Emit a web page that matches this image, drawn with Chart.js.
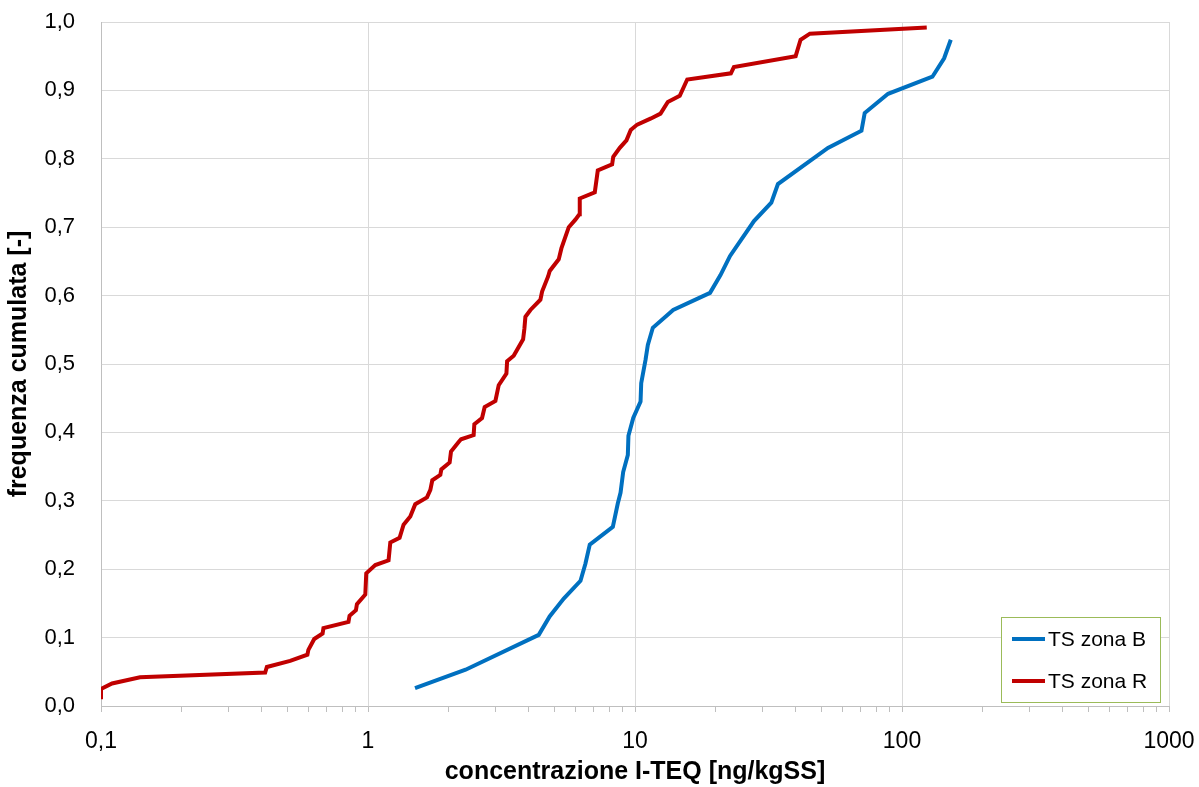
<!DOCTYPE html>
<html>
<head>
<meta charset="utf-8">
<script src="https://cdn.jsdelivr.net/npm/chart.js@4"></script>
<style>
  body { margin: 0; background: #fff; }
  #wrap { width: 1199px; height: 787px; }
</style>
</head>
<body>
<div id="wrap"><canvas id="cdf" width="1199" height="787"></canvas></div>
<script>
// concentrazione I-TEQ [ng/kgSS] vs frequenza cumulata
const seriesNames = ['TS zona B', 'TS zona R'];

const zonaBX = [1.50, 2.32, 4.36, 4.79, 5.41, 6.25, 6.52, 6.77, 8.26, 8.62, 8.83, 9.03, 9.40, 9.45,
  9.85, 10.49, 10.55, 10.95, 11.17, 11.66, 13.9, 19.1, 20.9, 22.7, 27.9, 32.4, 34.3, 52.8, 70.5,
  72.5, 88.7, 130, 143.8, 152.3];
const zonaBY = [0.026, 0.053, 0.104, 0.131, 0.157, 0.183, 0.208, 0.236, 0.262, 0.296, 0.312, 0.342, 0.367, 0.395,
  0.421, 0.445, 0.472, 0.506, 0.528, 0.553, 0.579, 0.604, 0.630, 0.658, 0.709, 0.736, 0.763, 0.816, 0.841,
  0.867, 0.895, 0.920, 0.947, 0.974];

const zonaRX = [0.1, 0.1, 0.110, 0.140, 0.412, 0.418, 0.511, 0.593, 0.598, 0.629, 0.676, 0.681, 0.845, 0.853,
  0.901, 0.909, 0.977, 0.985, 1.065, 1.194, 1.212, 1.313, 1.359, 1.440, 1.503, 1.663, 1.712, 1.741, 1.866,
  1.882, 2.022, 2.046, 2.185, 2.231, 2.487, 2.502, 2.674, 2.735, 3.00, 3.087, 3.299, 3.319, 3.513, 3.668,
  3.810, 3.853, 3.886, 4.058, 4.423, 4.488, 4.727, 4.793, 5.18, 5.30, 5.648, 5.98, 6.19, 6.21, 7.07, 7.255,
  8.21, 8.29, 8.77, 9.29, 9.64, 10.19, 11.48, 12.46, 13.27, 14.71, 15.69, 22.86, 23.46, 39.96, 41.7, 45.2,
  123.8];
const zonaRY = [0.010, 0.025, 0.033, 0.042, 0.049, 0.057, 0.066, 0.075, 0.082, 0.098, 0.106, 0.114, 0.123, 0.132,
  0.140, 0.149, 0.163, 0.194, 0.206, 0.213, 0.239, 0.246, 0.265, 0.277, 0.295, 0.305, 0.316, 0.330, 0.338,
  0.346, 0.356, 0.372, 0.386, 0.390, 0.396, 0.412, 0.421, 0.437, 0.446, 0.469, 0.486, 0.504, 0.512, 0.525,
  0.536, 0.552, 0.569, 0.579, 0.594, 0.606, 0.628, 0.636, 0.653, 0.669, 0.700, 0.711, 0.719, 0.742, 0.751, 0.783,
  0.792, 0.803, 0.816, 0.827, 0.842, 0.850, 0.859, 0.866, 0.883, 0.892, 0.916, 0.925, 0.934, 0.950, 0.974, 0.983,
  0.992];

const xMajorLabels = ['0,1', '1', '10', '100', '1000'];

const toPoints = (xs, ys) => xs.map((x, i) => ({ x: x, y: ys[i] }));

function isMajor(v) {
  const l = Math.log10(v);
  return Math.abs(l - Math.round(l)) < 1e-9;
}

// legend box drawn inside the plot, bottom right
const legendBox = {
  id: 'legendBox',
  afterDraw(chart) {
    const ctx = chart.ctx;
    const items = chart.data.datasets;
    ctx.save();
    ctx.fillStyle = '#ffffff';
    ctx.fillRect(1002, 618, 159, 84);
    ctx.strokeStyle = '#9bbb59';
    ctx.lineWidth = 1;
    ctx.strokeRect(1001.5, 617.5, 159, 85);
    ctx.font = '21px "Liberation Sans", Arial, sans-serif';
    ctx.textBaseline = 'middle';
    items.forEach((ds, i) => {
      const y = 639 + i * 42;
      ctx.strokeStyle = ds.borderColor;
      ctx.lineWidth = 4;
      ctx.beginPath();
      ctx.moveTo(1012, y);
      ctx.lineTo(1045, y);
      ctx.stroke();
      ctx.fillStyle = '#000';
      ctx.fillText(ds.label, 1048, y + 1);
    });
    ctx.restore();
  }
};

const ctx = document.getElementById('cdf').getContext('2d');

new Chart(ctx, {
  type: 'line',
  data: {
    datasets: [
      {
        label: seriesNames[0],
        data: toPoints(zonaBX, zonaBY),
        borderColor: '#0070c0',
        borderWidth: 4,
        pointRadius: 0,
        tension: 0,
        fill: false
      },
      {
        label: seriesNames[1],
        data: toPoints(zonaRX, zonaRY),
        borderColor: '#c00000',
        borderWidth: 4,
        pointRadius: 0,
        tension: 0,
        fill: false
      }
    ]
  },
  options: {
    responsive: false,
    animation: false,
    layout: { padding: { top: 22, right: 30, left: 0, bottom: 0 } },
    plugins: {
      legend: { display: false },
      tooltip: { enabled: false }
    },
    scales: {
      x: {
        type: 'logarithmic',
        min: 0.1,
        max: 1000,
        afterBuildTicks: (scale) => {
          const t = [];
          for (let e = -1; e < 3; e++) {
            for (let m = 1; m < 10; m++) t.push({ value: m * Math.pow(10, e) });
          }
          t.push({ value: 1000 });
          scale.ticks = t;
        },
        afterFit: (scale) => {
          scale.height = 81;
          scale.paddingLeft = 0;
          scale.paddingRight = 0;
        },
        border: { color: '#bfbfbf', width: 1 },
        grid: {
          color: (c) => (c.tick && isMajor(c.tick.value) ? '#d9d9d9' : 'rgba(0,0,0,0)'),
          tickColor: '#bfbfbf',
          tickLength: 6,
          lineWidth: 1
        },
        ticks: {
          autoSkip: false,
          maxRotation: 0,
          padding: 16,
          color: '#000',
          font: { family: '"Liberation Sans", Arial, sans-serif', size: 23 },
          callback: function (value) {
            if (!isMajor(value)) return '';
            return xMajorLabels[Math.round(Math.log10(value)) + 1];
          }
        },
        title: {
          display: true,
          text: 'concentrazione I-TEQ [ng/kgSS]',
          color: '#000',
          font: { family: '"Liberation Sans", Arial, sans-serif', size: 25, weight: 'bold' },
          padding: { top: 0, bottom: 0 }
        }
      },
      y: {
        min: 0,
        max: 1,
        afterFit: (scale) => {
          scale.width = 101;
          scale.paddingTop = 0;
          scale.paddingBottom = 0;
        },
        border: { color: '#bfbfbf', width: 1 },
        grid: { color: '#d9d9d9', drawTicks: false, lineWidth: 1 },
        ticks: {
          stepSize: 0.1,
          padding: 26,
          color: '#000',
          font: { family: '"Liberation Sans", Arial, sans-serif', size: 22 },
          callback: (v) => v.toFixed(1).replace('.', ',')
        },
        title: {
          display: true,
          text: 'frequenza cumulata [-]',
          color: '#000',
          font: { family: '"Liberation Sans", Arial, sans-serif', size: 25, weight: 'bold' },
          padding: { top: 4, bottom: 0 }
        }
      }
    }
  },
  plugins: [legendBox]
});
</script>
</body>
</html>
